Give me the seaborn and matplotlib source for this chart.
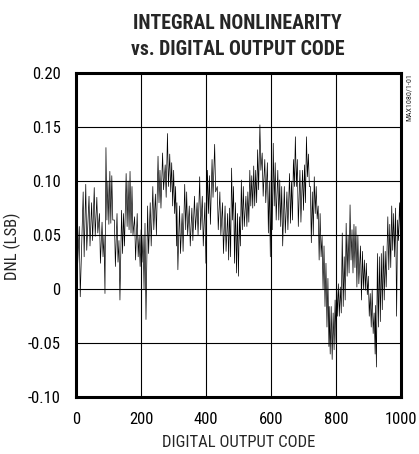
import numpy as np
import pandas as pd
import matplotlib
matplotlib.use("Agg")
import matplotlib.pyplot as plt
import seaborn as sns

# Digital output code at which each pair of readings starts
codes = [0, 10, 22, 30, 40, 48, 56, 64, 72, 80, 86, 92, 98, 104, 110, 118, 126, 132, 140, 146,
         154, 160, 166, 172, 180, 188, 194, 200, 206, 212, 220, 228, 236, 244, 252, 258, 266, 274, 281, 288,
         294, 300, 306, 310, 318, 326, 334, 340, 348, 356, 364, 372, 380, 388, 396, 404, 410, 418, 426, 434,
         442, 450, 458, 466, 472, 478, 484, 490, 496, 502, 508, 514, 522, 528, 534, 540, 546, 552, 558, 565,
         572, 580, 588, 594, 600, 606, 612, 620, 626, 632, 640, 648, 656, 662, 668, 674, 680, 688, 696, 702,
         708, 714, 720, 726, 732, 738, 744, 750, 756, 762, 768, 774, 778, 784, 790, 796, 800, 806, 812, 818,
         824, 830, 836, 842, 848, 854, 860, 866, 874, 880, 886, 892, 898, 904, 910, 916, 920, 926, 932, 938,
         944, 950, 958, 964, 970, 976, 982, 988, 994, 1000]

# Upper excursion of the DNL trace (LSB)
dnl_high = [0.061, 0.058, 0.090, 0.097, 0.086, 0.080, 0.094, 0.085, 0.070, 0.062, 0.050, 0.131, 0.100, 0.109, 0.105, 0.064, 0.070, 0.045, 0.073, 0.070,
            0.107, 0.100, 0.109, 0.095, 0.067, 0.070, 0.049, 0.055, 0.050, 0.061, 0.077, 0.080, 0.095, 0.088, 0.123, 0.110, 0.126, 0.115, 0.144, 0.125,
            0.117, 0.110, 0.095, 0.080, 0.077, 0.070, 0.097, 0.090, 0.077, 0.075, 0.086, 0.080, 0.104, 0.086, 0.080, 0.110, 0.105, 0.120, 0.134, 0.095,
            0.090, 0.080, 0.077, 0.070, 0.075, 0.112, 0.095, 0.080, 0.070, 0.067, 0.101, 0.095, 0.086, 0.090, 0.110, 0.105, 0.114, 0.110, 0.129, 0.152,
            0.126, 0.120, 0.117, 0.100, 0.110, 0.135, 0.117, 0.110, 0.101, 0.095, 0.095, 0.090, 0.107, 0.100, 0.120, 0.141, 0.120, 0.110, 0.110, 0.115,
            0.141, 0.125, 0.095, 0.090, 0.104, 0.095, 0.077, 0.070, 0.049, 0.040, 0.024, 0.010, -0.016, -0.016, -0.022, -0.010, 0.009, 0.005, 0.002, 0.052,
            0.030, 0.061, 0.050, 0.078, 0.055, 0.060, 0.058, 0.050, 0.040, 0.035, 0.027, 0.024, 0.012, -0.004, 0.000, -0.022, -0.015, 0.033, 0.030, 0.033,
            0.040, 0.035, 0.067, 0.060, 0.077, 0.070, 0.075, 0.064, 0.080, 0.107]

# Lower excursion of the DNL trace (LSB)
dnl_low = [0.009, -0.007, 0.030, 0.036, 0.040, 0.045, 0.049, 0.052, 0.024, 0.030, -0.004, 0.064, 0.060, 0.061, 0.064, 0.021, 0.025, -0.010, 0.033, 0.040,
           0.058, 0.055, 0.052, 0.050, 0.027, 0.030, 0.021, 0.025, 0.000, -0.028, 0.033, 0.040, 0.055, 0.050, 0.080, 0.075, 0.092, 0.085, 0.095, 0.090,
           0.077, 0.070, 0.040, 0.018, 0.033, 0.035, 0.055, 0.050, 0.040, 0.045, 0.055, 0.050, 0.055, 0.040, 0.024, 0.070, 0.060, 0.085, 0.090, 0.055,
           0.050, 0.033, 0.035, 0.027, 0.030, 0.064, 0.024, 0.015, 0.012, 0.040, 0.055, 0.058, 0.058, 0.062, 0.077, 0.075, 0.077, 0.080, 0.092, 0.110,
           0.086, 0.080, 0.052, 0.030, 0.055, 0.077, 0.064, 0.064, 0.058, 0.040, 0.052, 0.055, 0.061, 0.064, 0.095, 0.095, 0.058, 0.062, 0.073, 0.080,
           0.104, 0.095, 0.043, 0.050, 0.070, 0.065, 0.027, 0.030, 0.000, -0.016, -0.035, -0.053, -0.060, -0.065, -0.056, -0.050, -0.025, -0.025, -0.022, -0.016,
           -0.010, 0.012, 0.015, 0.027, 0.015, 0.020, 0.002, 0.005, -0.010, 0.000, -0.001, -0.005, -0.025, -0.035, -0.041, -0.060, -0.072, -0.035, -0.030, -0.019,
           -0.010, 0.002, 0.018, 0.020, 0.036, 0.030, -0.025, 0.045, 0.050, 0.086]

x_ticks = [0, 200, 400, 600, 800, 1000]
y_ticks = [-0.10, -0.05, 0.0, 0.05, 0.10, 0.15, 0.20]
y_tick_labels = ["-0.10", "-0.05", "0", "0.05", "0.10", "0.15", "0.20"]

# Interleave the high and low readings into one zig-zag trace
trace_x, trace_y = [], []
for c, hi, lo in zip(codes, dnl_high, dnl_low):
    trace_x += [c, c + 3]
    trace_y += [hi, lo]
trace = pd.DataFrame({"code": trace_x, "dnl": trace_y})

sns.set_style("white")
plt.rcParams["font.family"] = ["Roboto Condensed", "Liberation Sans", "DejaVu Sans"]
plt.rcParams["font.stretch"] = "condensed"

fig = plt.figure(figsize=(4.19, 4.54), dpi=100)
ax = fig.add_axes([0.1814, 0.1249, 0.7768, 0.7143])

sns.lineplot(data=trace, x="code", y="dnl", ax=ax, color="black", linewidth=0.5,
             estimator=None, sort=False, zorder=3)

ax.set_xlim(0, 1000)
ax.set_ylim(-0.10, 0.20)
ax.set_xticks(x_ticks)
ax.set_xticklabels([str(t) for t in x_ticks])
ax.set_yticks(y_ticks)
ax.set_yticklabels(y_tick_labels)
ax.tick_params(axis="both", length=0, labelsize=12, colors="black")
ax.tick_params(axis="x", pad=10.5)
ax.tick_params(axis="y", pad=11)
ax.grid(True, color="black", linewidth=0.8, zorder=1)
ax.set_axisbelow(True)
for sp in ax.spines.values():
    sp.set_visible(True)
    sp.set_color("black")
    sp.set_linewidth(2.2)

ax.set_xlabel("DIGITAL OUTPUT CODE", fontsize=12, labelpad=5.5)
ax.set_ylabel("")
fig.text(0.029, 0.458, "DNL (LSB)", rotation=90, ha="center", va="center", fontsize=12)

fig.text(0.567, 0.948, "INTEGRAL NONLINEARITY", ha="center", va="center",
         fontsize=14.2, fontweight="bold")
fig.text(0.567, 0.890, "vs. DIGITAL OUTPUT CODE", ha="center", va="center",
         fontsize=14.2, fontweight="bold")
fig.text(0.977, 0.838, "MAX1080/1-01", rotation=90, ha="center", va="top", fontsize=5.8)

fig.savefig("out.png", dpi=100)
